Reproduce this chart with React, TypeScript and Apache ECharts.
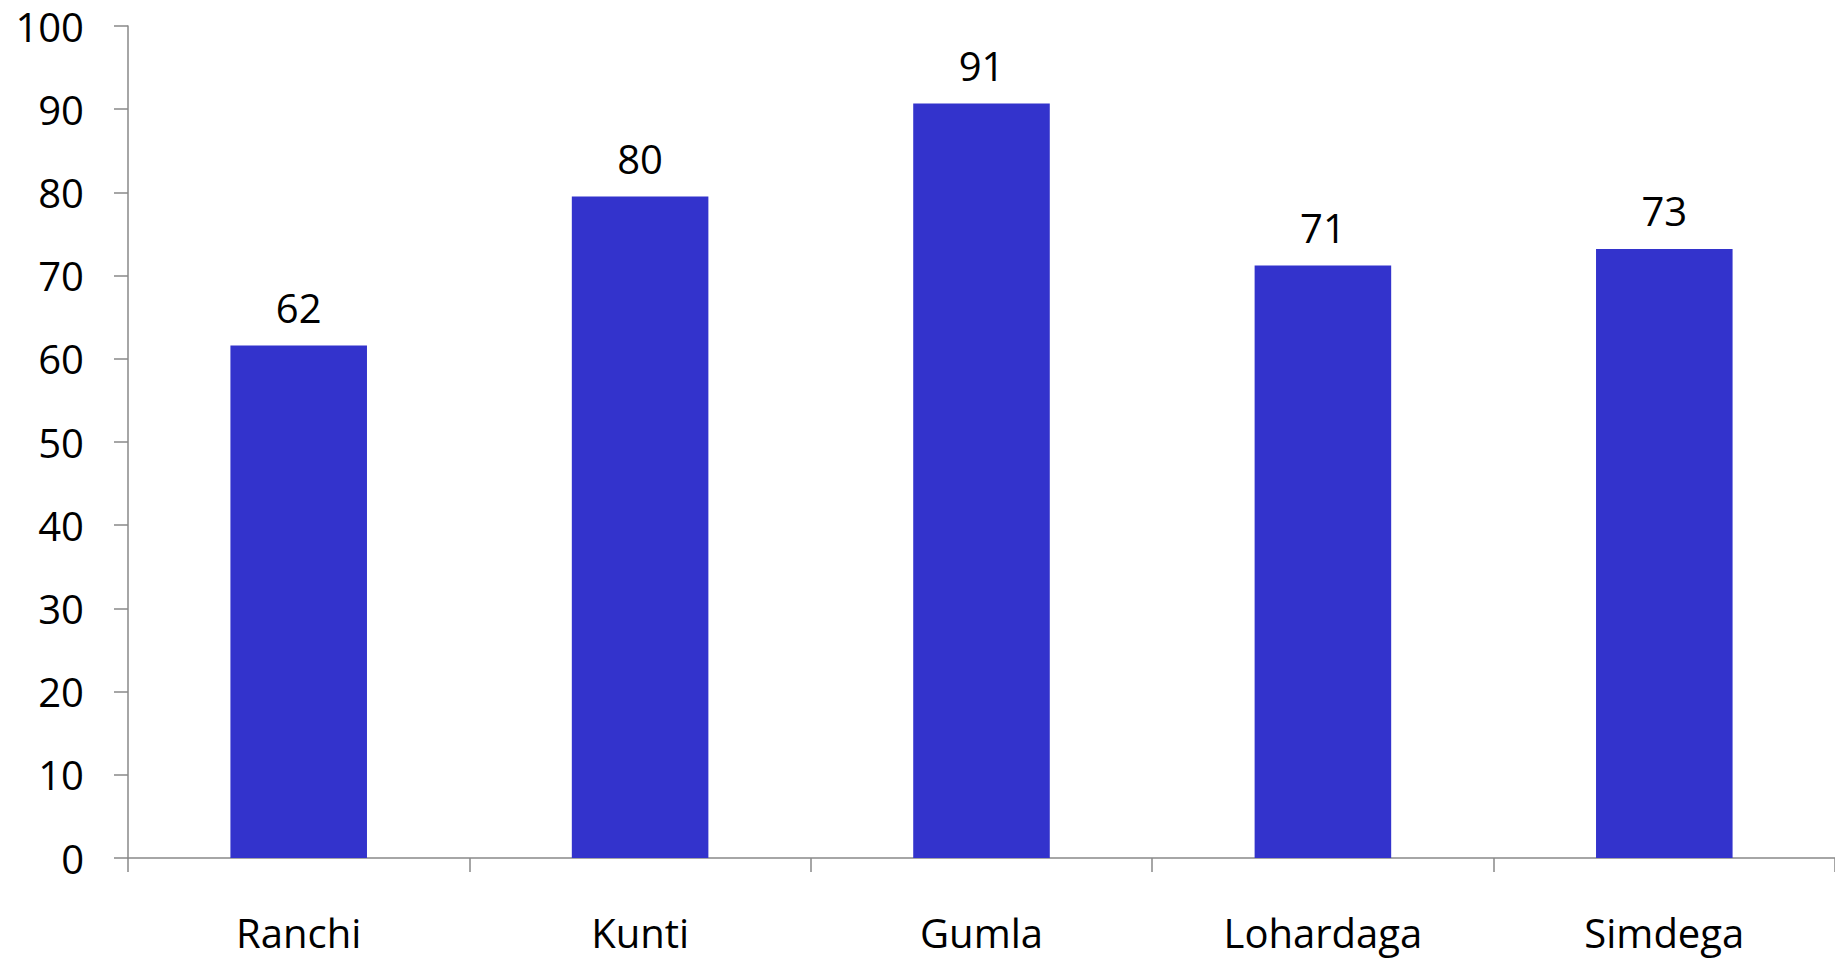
import React, { useEffect, useRef } from "react";
import * as echarts from "echarts";

const categories = ["Ranchi", "Kunti", "Gumla", "Lohardaga", "Simdega"];
const values = [61.6, 79.5, 90.7, 71.2, 73.2];
const yTicks = { min: 0, max: 100, interval: 10 };

export default function App() {
  const ref = useRef<HTMLDivElement>(null);
  useEffect(() => {
    if (!ref.current) return;
    const chart = echarts.init(ref.current, null, { renderer: "svg" });
    const font = "'Open Sans', 'Noto Sans', sans-serif";
    chart.setOption({
      animation: false,
      grid: { left: 128, right: -8, top: 26, bottom: 100, containLabel: false },
      xAxis: {
        type: "category",
        data: categories,
        axisLine: { lineStyle: { color: "#898989", width: 1.5 } },
        axisTick: { show: true, length: 14, lineStyle: { color: "#898989", width: 1.5 } },
        axisLabel: { color: "#000", fontSize: 40, fontFamily: font, margin: 54 },
      },
      yAxis: {
        type: "value",
        min: yTicks.min,
        max: yTicks.max,
        interval: yTicks.interval,
        splitLine: { show: false },
        axisLine: { show: true, lineStyle: { color: "#898989", width: 1.5 } },
        axisTick: { show: true, length: 14, lineStyle: { color: "#898989", width: 1.5 } },
        axisLabel: { color: "#000", fontSize: 40, lineHeight: 40, fontFamily: font, margin: 44 },
      },
      series: [
        {
          type: "bar",
          data: values,
          barWidth: "40%",
          itemStyle: { color: "#3333CC" },
          label: {
            show: true,
            position: "top",
            distance: 18,
            color: "#000",
            fontSize: 40,
            fontFamily: font,
            formatter: (p: any) => Math.round(p.value).toString(),
          },
        },
      ],
    });
    return () => chart.dispose();
  }, []);
  return <div ref={ref} style={{ width: 1835, height: 958, position: "absolute", left: 0, top: 0 }} />;
}
